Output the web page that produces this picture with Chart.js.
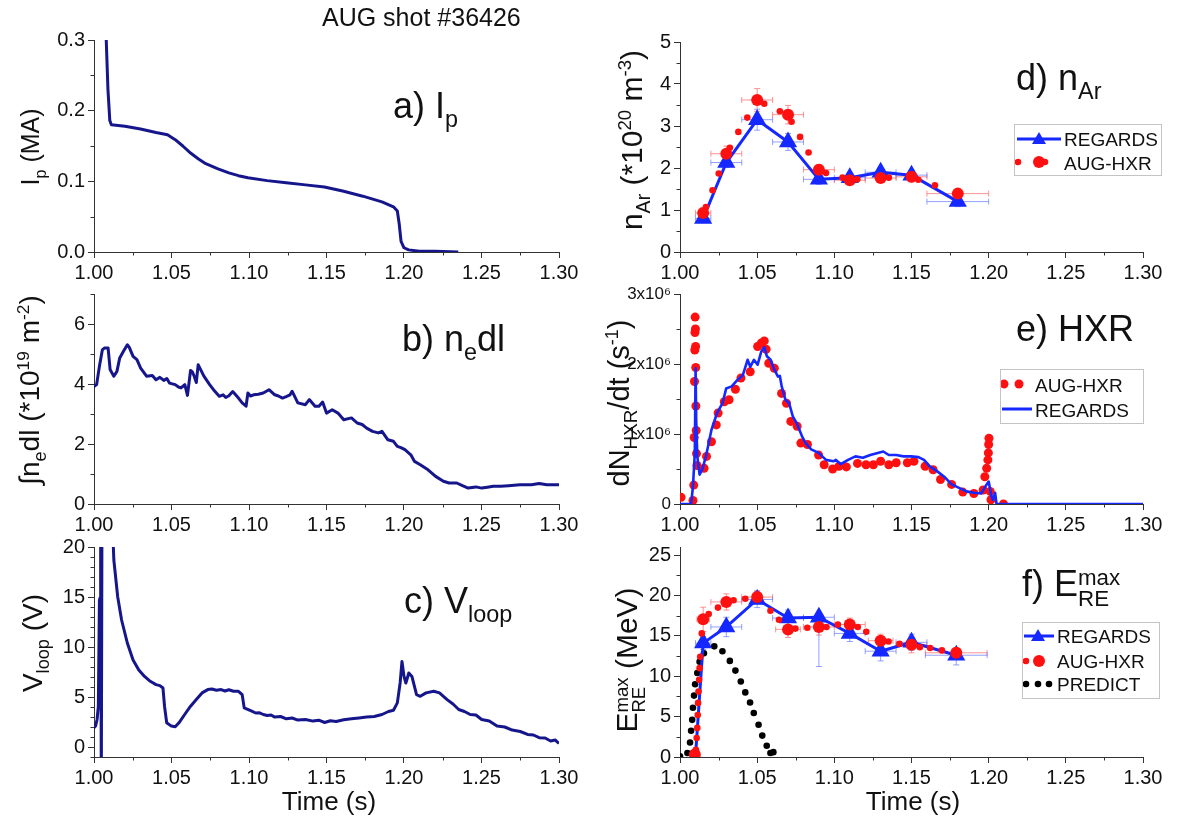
<!DOCTYPE html>
<html><head><meta charset="utf-8">
<script src="https://cdn.jsdelivr.net/npm/chart.js@4.4.1/dist/chart.umd.min.js"></script>
<style>
body{margin:0;background:#fff;}
#wrap{position:relative;width:1180px;height:834px;overflow:hidden;font-family:"Liberation Sans",Arial,sans-serif;color:#111;background:#fff;}
canvas{position:absolute;}
.t{position:absolute;white-space:nowrap;line-height:1;z-index:5;}
.rot{transform:translate(-50%,-50%) rotate(-90deg);}
.ctr{transform:translate(-50%,-50%);}
.sub{font-size:65%;position:relative;top:0.4em;}
.sup{font-size:62%;position:relative;top:-0.6em;}
.stk{display:inline-block;vertical-align:-0.45em;font-size:62%;line-height:0.95;}
.stk span{display:block;}
.legend{position:absolute;border:1.5px solid #c4c4c4;background:#fff;z-index:6;font-size:19px;}
.legend .row{position:absolute;left:0;white-space:nowrap;}
.legend svg{position:absolute;}
</style></head>
<body><div id="wrap">
<canvas id="ca" width="560" height="267" style="left:24px;top:25px;width:560px;height:267px"></canvas>
<canvas id="cb" width="560" height="265" style="left:24px;top:279px;width:560px;height:265px"></canvas>
<canvas id="cc" width="560" height="265" style="left:24px;top:532px;width:560px;height:265px"></canvas>
<canvas id="cd" width="568" height="265" style="left:600px;top:27px;width:568px;height:265px"></canvas>
<canvas id="ce" width="568" height="265" style="left:600px;top:279px;width:568px;height:265px"></canvas>
<canvas id="cf" width="568" height="265" style="left:600px;top:532px;width:568px;height:265px"></canvas>

<div class="t" style="left:322px;top:5px;font-size:25px">AUG shot #36426</div>

<div class="t rot" style="left:30px;top:147px;font-size:25px">I<span class="sub">p</span> (MA)</div>
<div class="t rot" style="left:30px;top:390px;font-size:28px">∫n<span class="sub">e</span>dl (*10<span class="sup">19</span> m<span class="sup">-2</span>)</div>
<div class="t rot" style="left:33px;top:643px;font-size:28px">V<span class="sub">loop</span> (V)</div>
<div class="t rot" style="left:632px;top:140px;font-size:30px">n<span class="sub">Ar</span> (*10<span class="sup">20</span> m<span class="sup">-3</span>)</div>
<div class="t rot" style="left:619px;top:403px;font-size:29px">dN<span class="sub">HXR</span>/dt (s<span class="sup">-1</span>)</div>
<div class="t rot" style="left:630px;top:660px;font-size:30px">E<span class="stk"><span>max</span><span>RE</span></span> (MeV)</div>

<div class="t ctr" style="left:329px;top:801px;font-size:26px">Time (s)</div>
<div class="t ctr" style="left:913px;top:801px;font-size:26px">Time (s)</div>

<div class="t" style="left:393px;top:88px;font-size:36px">a) I<span class="sub">p</span></div>
<div class="t" style="left:402px;top:321px;font-size:36px">b) n<span class="sub">e</span>dl</div>
<div class="t" style="left:404px;top:583px;font-size:36px">c) V<span class="sub">loop</span></div>
<div class="t" style="left:1016px;top:60px;font-size:36px">d) n<span class="sub">Ar</span></div>
<div class="t" style="left:1016px;top:311px;font-size:36px">e) HXR</div>
<div class="t" style="left:1022px;top:566px;font-size:36px">f) E<span class="stk"><span>max</span><span>RE</span></span></div>

<div class="legend" style="left:1014px;top:124px;width:146px;height:50px">
  <svg style="left:0;top:0" width="50" height="50">
    <line x1="2" y1="14" x2="46" y2="14" stroke="#1428ff" stroke-width="3"/>
    <polygon points="24,7 31,19 17,19" fill="#1428ff"/>
    <circle cx="3" cy="37" r="3.3" fill="#ff1010"/>
    <circle cx="24" cy="37" r="6" fill="#ff1010"/>
    <circle cx="30" cy="37" r="3.3" fill="#ff1010"/>
  </svg>
  <div class="row" style="left:49px;top:4px">REGARDS</div>
  <div class="row" style="left:49px;top:28px">AUG-HXR</div>
</div>
<div class="legend" style="left:1000px;top:369px;width:142px;height:53px">
  <svg style="left:0;top:0" width="40" height="53">
    <circle cx="3" cy="14" r="4.5" fill="#ff1010"/>
    <circle cx="18" cy="14" r="4.5" fill="#ff1010"/>
    <line x1="1" y1="39" x2="31" y2="39" stroke="#1428ff" stroke-width="3"/>
  </svg>
  <div class="row" style="left:34px;top:5px">AUG-HXR</div>
  <div class="row" style="left:34px;top:30px">REGARDS</div>
</div>
<div class="legend" style="left:1022px;top:622px;width:136px;height:75px">
  <svg style="left:0;top:0" width="40" height="75">
    <line x1="1" y1="13" x2="31" y2="13" stroke="#1428ff" stroke-width="3"/>
    <polygon points="15,6 22,18 8,18" fill="#1428ff"/>
    <circle cx="3" cy="38" r="3.3" fill="#ff1010"/>
    <circle cx="16" cy="38" r="6" fill="#ff1010"/>
    <circle cx="3" cy="61" r="3.3" fill="#000"/>
    <circle cx="15" cy="61" r="3.3" fill="#000"/>
    <circle cx="26" cy="61" r="3.3" fill="#000"/>
  </svg>
  <div class="row" style="left:34px;top:3px">REGARDS</div>
  <div class="row" style="left:34px;top:28px">AUG-HXR</div>
  <div class="row" style="left:34px;top:51px">PREDICT</div>
</div>
</div>
<script>
// ---------- ticks ----------
const xTicks=[1.00,1.05,1.10,1.15,1.20,1.25,1.30];
const xMinor=[1.025,1.075,1.125,1.175,1.225,1.275];
const aYTicks=[0,0.1,0.2,0.3], aYMinor=[0.05,0.15,0.25];
const bYTicks=[0,2,4,6], bYMinor=[1,3,5,7];
const cYTicks=[0,5,10,15,20], cYMinor=[-1,1,2,3,4,6,7,8,9,11,12,13,14,16,17,18,19];
const dYTicks=[0,1,2,3,4,5], dYMinor=[0.5,1.5,2.5,3.5,4.5];
const eYTicks=[0,1e6,2e6,3e6], eYMinor=[0.5e6,1.5e6,2.5e6];
const eYLabels=['0','1x10⁶','2x10⁶','3x10⁶'];
const fYTicks=[0,5,10,15,20,25], fYMinor=[2.5,7.5,12.5,17.5,22.5];

// ---------- a) Ip ----------
const aT=[1.0079,1.0090,1.0102,1.0112,1.020,1.030,1.040,1.0474,1.0524,1.0573,1.0623,1.0672,1.0721,1.0796,1.0870,1.0932,1.0993,1.1117,1.124,1.1364,1.1487,1.1611,1.1734,1.1858,1.1932,1.1957,1.1969,1.1981,1.2000,1.2030,1.210,1.220,1.235];
const aI=[0.300,0.230,0.186,0.180,0.178,0.174,0.169,0.166,0.159,0.150,0.140,0.132,0.125,0.118,0.112,0.108,0.105,0.101,0.098,0.095,0.092,0.086,0.079,0.071,0.064,0.058,0.040,0.015,0.006,0.003,0.001,0.001,0.000];

// ---------- b) ne dl ----------
const bT=[1.000,1.0017,1.0035,1.0054,1.0067,1.0091,1.0104,1.0116,1.0128,1.0148,1.0166,1.0190,1.0215,1.0227,1.0252,1.0277,1.0301,1.0339,1.0376,1.0400,1.0425,1.0450,1.0470,1.0487,1.0524,1.0545,1.0561,1.0586,1.0603,1.0623,1.0635,1.0647,1.0660,1.0672,1.0684,1.0709,1.0746,1.0771,1.0808,1.0833,1.0850,1.0870,1.0895,1.0932,1.0956,1.0981,1.0993,1.1010,1.1030,1.1060,1.1092,1.1129,1.1166,1.1190,1.1216,1.1240,1.1265,1.1278,1.1315,1.1364,1.1389,1.1426,1.1451,1.1475,1.1500,1.1537,1.1574,1.1611,1.1661,1.1698,1.1730,1.1759,1.1797,1.1834,1.1858,1.1896,1.1932,1.1957,1.1980,1.2006,1.2044,1.2068,1.2105,1.2155,1.2204,1.2254,1.2291,1.2340,1.2377,1.2414,1.2464,1.2501,1.2538,1.2575,1.2624,1.2674,1.2748,1.2822,1.2872,1.2921,1.3000];
const bV=[3.92,3.98,4.59,5.14,5.20,5.20,4.48,4.37,4.26,4.42,4.87,5.09,5.31,5.23,4.92,4.81,4.53,4.26,4.28,4.14,4.22,4.12,4.18,4.03,3.98,3.90,3.87,3.98,3.62,4.45,4.40,4.25,4.05,4.64,4.52,4.26,3.98,3.81,3.59,3.64,3.55,3.61,3.75,3.53,3.37,3.26,3.70,3.60,3.64,3.66,3.70,3.81,3.64,3.60,3.53,3.58,3.64,3.76,3.37,3.31,3.48,3.26,3.26,3.40,3.03,3.14,3.03,2.81,2.87,2.70,2.65,2.53,2.42,2.37,2.42,2.14,2.09,1.92,1.88,1.81,1.64,1.42,1.31,1.14,0.92,0.76,0.70,0.70,0.61,0.53,0.57,0.53,0.56,0.59,0.59,0.61,0.64,0.64,0.68,0.64,0.64];

// ---------- c) Vloop ----------
const cT=[1.000,1.0010,1.0020,1.0028,1.0035,1.0038,1.0040,1.0043,1.0047,1.0051,1.0054,1.0120,1.0128,1.0153,1.0178,1.0215,1.0252,1.0289,1.0326,1.0363,1.0400,1.0425,1.0445,1.0455,1.0469,1.0499,1.0524,1.0548,1.0585,1.0623,1.0660,1.0697,1.0734,1.0760,1.0790,1.0820,1.0845,1.0870,1.0900,1.0932,1.0956,1.0969,1.1018,1.1043,1.1068,1.1092,1.1117,1.1142,1.1166,1.1204,1.1241,1.1278,1.1315,1.1364,1.1413,1.1450,1.1488,1.1525,1.1562,1.1611,1.1661,1.1710,1.1759,1.1808,1.1858,1.1900,1.1932,1.1957,1.1975,1.1987,1.2000,1.2012,1.2031,1.2051,1.2081,1.2105,1.2142,1.2192,1.2229,1.2278,1.2316,1.2353,1.2390,1.2427,1.2464,1.2501,1.2550,1.2600,1.2650,1.2698,1.2750,1.2797,1.2835,1.2872,1.2910,1.2946,1.2975,1.3000];
const cV=[1.92,2.09,2.75,4.08,14.7,14.9,9.0,30,-5,-5,40,22,18.7,15.0,12.7,10.4,8.7,7.7,7.06,6.57,6.24,6.14,5.9,4.08,2.42,2.09,2.02,2.42,3.25,4.08,4.74,5.41,5.74,5.80,5.67,5.74,5.60,5.72,5.57,5.57,5.24,3.91,3.58,3.40,3.42,3.25,3.15,3.20,2.99,3.05,2.82,2.90,2.69,2.75,2.59,2.68,2.45,2.62,2.55,2.72,2.82,2.90,2.99,3.05,3.25,3.55,3.68,4.41,6.4,8.56,7.06,6.4,7.4,7.06,5.24,5.07,5.41,5.57,5.41,4.74,4.30,3.75,3.55,3.25,3.20,2.75,2.60,2.09,2.00,1.69,1.55,1.26,1.20,0.93,0.90,0.60,0.70,0.36];

// ---------- d) nAr ----------
const dRegT=[1.015,1.030,1.050,1.070,1.090,1.110,1.130,1.150,1.180];
const dRegV=[0.80,2.13,3.15,2.62,1.73,1.77,1.90,1.83,1.20];
const dRegXErr=[0.005,0.01,0.01,0.01,0.01,0.01,0.01,0.01,0.02];
const dRegYErr=[0.10,0.12,0.25,0.20,0.12,0.10,0.10,0.10,0.12];
const dAugT=[1.015,1.030,1.050,1.070,1.090,1.110,1.130,1.150,1.180];
const dAugV=[0.93,2.34,3.62,3.27,1.96,1.71,1.76,1.79,1.39];
const dAugXErr=[0.005,0.01,0.01,0.01,0.01,0.01,0.01,0.01,0.02];
const dAugYErr=[0.12,0.18,0.27,0.22,0.12,0.10,0.10,0.12,0.10];
const dAugSmT=[1.0168,1.0211,1.0251,1.0323,1.0378,1.0436,1.0546,1.0647,1.0723,1.0778,1.0833,1.0946,1.1053,1.1149,1.1353,1.1544,1.1652];
const dAugSmV=[1.07,1.47,1.87,2.48,2.86,3.20,3.53,3.35,3.10,2.74,2.37,1.88,1.77,1.73,1.77,1.72,1.59];

// ---------- e) HXR ----------
const eAugT=[1.0007,1.0084,1.0089,1.0092,1.0094,1.0096,1.0097,1.0098,1.0100,1.0101,1.0102,1.0103,1.0105,1.0107,1.0110,1.0156,1.0172,1.0204,1.0235,1.0247,1.0287,1.0318,1.0359,1.0395,1.0455,1.0503,1.0527,1.0546,1.0558,1.0575,1.0611,1.0658,1.0690,1.0718,1.0759,1.0783,1.0826,1.0898,1.0934,1.0989,1.1030,1.1078,1.1150,1.1205,1.1253,1.1300,1.1353,1.1401,1.1473,1.1516,1.1588,1.1640,1.1688,1.1760,1.1832,1.1904,1.1964,1.1975,1.1987,1.1995,1.1998,1.2000,1.2002,1.2010,1.2015,1.2096];
const eAugV=[0.095,0.05,0.27,0.95,1.75,2.20,2.45,2.67,2.50,2.25,1.95,1.40,1.05,0.72,0.55,0.51,0.68,0.89,1.13,1.30,1.46,1.49,1.64,1.80,1.89,2.25,2.30,2.33,2.21,2.01,1.94,1.58,1.44,1.18,1.11,0.87,0.85,0.70,0.56,0.50,0.54,0.53,0.58,0.56,0.56,0.61,0.56,0.59,0.59,0.61,0.54,0.49,0.35,0.28,0.17,0.15,0.20,0.39,0.51,0.63,0.73,0.85,0.94,0.18,0.06,0.00].map(v=>v*1e6);
const eRegT=[1.000,1.0072,1.0084,1.0096,1.0101,1.0105,1.0112,1.0127,1.0144,1.0168,1.0204,1.0240,1.0276,1.0299,1.0335,1.0371,1.0407,1.0438,1.0455,1.0479,1.0503,1.0527,1.0546,1.0563,1.0587,1.0611,1.0635,1.0647,1.0659,1.0683,1.0707,1.0731,1.0755,1.0790,1.0814,1.0850,1.0898,1.0946,1.0994,1.1010,1.1041,1.1089,1.1137,1.1185,1.1233,1.1281,1.1317,1.1353,1.1401,1.1449,1.1497,1.1545,1.1581,1.1617,1.1665,1.1712,1.1760,1.1808,1.1856,1.1904,1.1952,1.1987,1.2000,1.2018,1.2027,1.2042,1.2051,1.3000];
const eRegV=[0,0,0.25,0.73,1.94,1.20,0.68,0.42,0.49,0.68,1.06,1.30,1.44,1.65,1.68,1.77,1.84,2.06,1.96,2.06,1.99,2.18,2.24,2.11,2.06,1.92,1.82,1.83,1.68,1.49,1.44,1.25,1.16,0.97,0.87,0.78,0.73,0.63,0.61,0.63,0.57,0.63,0.68,0.66,0.70,0.73,0.75,0.70,0.70,0.68,0.68,0.67,0.63,0.54,0.47,0.39,0.28,0.23,0.18,0.16,0.15,0.28,0.32,0.11,0.06,0.16,0,0].map(v=>v*1e6);

// ---------- f) E_RE max ----------
const fRegT=[1.010,1.015,1.030,1.050,1.070,1.090,1.110,1.130,1.150,1.179];
const fRegV=[0,14.1,16.1,19.5,17.2,17.3,15.3,13.1,14.2,12.6];
const fRegXErr=[0,0.005,0.01,0.01,0.01,0.01,0.01,0.01,0.01,0.02];
const fRegYLo=[0,0.8,1.2,1.0,1.0,6.1,1.0,1.2,1.0,1.2];
const fRegYHi=[0,0.8,1.2,1.0,1.0,0.2,1.0,1.2,1.0,0.8];
const fAugT=[1.0096,1.015,1.030,1.050,1.070,1.090,1.110,1.130,1.150,1.179];
const fAugV=[0.3,17.05,19.2,19.8,15.8,16.1,16.4,14.4,13.9,12.9];
const fAugXErr=[0,0.004,0.01,0.01,0.008,0.01,0.01,0.008,0.01,0.02];
const fAugYErr=[0,1.5,1.0,0.8,1.0,1.0,0.8,0.8,1.0,0.6];
const fAugSmT=[1.0103,1.0108,1.0112,1.0115,1.0117,1.0120,1.0124,1.0127,1.0131,1.0141,1.0186,1.0246,1.0347,1.0423,1.0586,1.0641,1.0748,1.0825,1.0949,1.1023,1.1152,1.1207,1.1351,1.1422,1.1554,1.1621,1.1697];
const fAugSmV=[0.9,2.35,3.6,5.2,6.7,8.1,9.55,11.0,12.4,15.3,17.7,18.5,19.4,19.6,18.1,17.0,15.9,16.0,16.1,16.4,16.1,15.5,14.3,14.0,13.6,13.5,13.2];
const fPredT=[1.000,1.0048,1.0065,1.0072,1.0079,1.0084,1.0091,1.0098,1.0112,1.0127,1.0155,1.0222,1.0275,1.0323,1.0359,1.0394,1.0423,1.0454,1.0478,1.0509,1.0533,1.0562,1.0586,1.0605];
const fPredV=[0.1,0.5,1.8,3.25,4.6,6.1,7.6,9.0,10.4,11.8,12.85,13.7,13.1,11.9,10.7,9.35,8.0,6.75,5.45,4.0,2.65,1.4,0.5,0.6];

// ---------- helpers ----------
const FF='"Liberation Sans", Arial, sans-serif';
const NAVY='#16168c', BLUE='#1428ff', RED='#ff1010';
const pts=(t,v)=>t.map((x,i)=>({x:x,y:v[i]}));
const minorPlugin={id:'minorTicks',afterDraw(chart,args,opts){
  const ctx=chart.ctx, xs=chart.scales.x, ys=chart.scales.y, ca=chart.chartArea;
  ctx.save(); ctx.strokeStyle='#333'; ctx.lineWidth=1;
  (opts.x||[]).forEach(v=>{const p=Math.round(xs.getPixelForValue(v))+0.5;ctx.beginPath();ctx.moveTo(p,ca.bottom);ctx.lineTo(p,ca.bottom+3.5);ctx.stroke();});
  (opts.y||[]).forEach(v=>{const p=Math.round(ys.getPixelForValue(v))+0.5;ctx.beginPath();ctx.moveTo(ca.left,p);ctx.lineTo(ca.left-3.5,p);ctx.stroke();});
  ctx.restore();
}};
const errPlugin={id:'errBars',beforeDatasetsDraw(chart){
  const ctx=chart.ctx, xs=chart.scales.x, ys=chart.scales.y;
  ctx.save(); ctx.lineWidth=1;
  const seg=(a,b,c,d)=>{ctx.beginPath();ctx.moveTo(a,b);ctx.lineTo(c,d);ctx.stroke();};
  chart.data.datasets.forEach(ds=>{
    if(!ds.errX&&!ds.errYLo) return;
    ctx.strokeStyle=ds.errColor;
    ds.data.forEach((p,i)=>{
      const px=xs.getPixelForValue(p.x), py=ys.getPixelForValue(p.y);
      const ex=ds.errX?ds.errX[i]:0;
      if(ex>0){const x1=xs.getPixelForValue(p.x-ex),x2=xs.getPixelForValue(p.x+ex);
        seg(x1,py,x2,py);seg(x1,py-3,x1,py+3);seg(x2,py-3,x2,py+3);}
      const lo=ds.errYLo?ds.errYLo[i]:0, hi=ds.errYHi?ds.errYHi[i]:lo;
      if(lo>0||hi>0){const y1=ys.getPixelForValue(p.y-lo),y2=ys.getPixelForValue(p.y+hi);
        seg(px,y1,px,y2);seg(px-3,y1,px+3,y1);seg(px-3,y2,px+3,y2);}
    });
  });
  ctx.restore();
}};

function makeChart(id,padL,yMin,yMax,yTicks,yMinor,yLabel,yFont,datasets){
  return new Chart(document.getElementById(id),{
    type:'scatter',
    data:{datasets:datasets},
    plugins:[minorPlugin,errPlugin],
    options:{
      responsive:false,animation:false,devicePixelRatio:1,
      layout:{padding:{top:15,right:25,left:0,bottom:0}},
      plugins:{legend:{display:false},tooltip:{enabled:false},minorTicks:{x:xMinor,y:yMinor}},
      scales:{
        x:{type:'linear',min:1.0,max:1.3,
          afterBuildTicks:s=>{s.ticks=xTicks.map(v=>({value:v}));},
          afterFit:s=>{s.height=40;},
          ticks:{callback:v=>Number(v).toFixed(2),font:{family:FF,size:20},color:'#111',padding:3,autoSkip:false,maxRotation:0},
          grid:{drawOnChartArea:false,drawTicks:true,tickLength:6,color:'#333',tickColor:'#333'},
          border:{display:true,color:'#333',width:1}},
        y:{type:'linear',min:yMin,max:yMax,
          afterBuildTicks:s=>{s.ticks=yTicks.map(v=>({value:v}));},
          afterFit:s=>{s.width=padL;},
          ticks:{callback:yLabel,font:{family:FF,size:yFont},color:'#111',padding:3,autoSkip:false},
          grid:{drawOnChartArea:false,drawTicks:true,tickLength:6,color:'#333',tickColor:'#333'},
          border:{display:true,color:'#333',width:1}}
      }
    }
  });
}
const lineDs=(d,c,w)=>({data:d,showLine:true,borderColor:c,borderWidth:w,pointRadius:0,borderJoinStyle:'round',tension:0});
const dotDs=(d,c,r)=>({data:d,showLine:false,backgroundColor:c,borderColor:c,borderWidth:0,pointRadius:r,pointHoverRadius:r});

makeChart('ca',70,0,0.3,aYTicks,aYMinor,v=>Number(v).toFixed(1),20,[lineDs(pts(aT,aI),NAVY,3)]);
makeChart('cb',70,0,7,bYTicks,bYMinor,v=>String(v),20,[lineDs(pts(bT,bV),NAVY,3)]);
makeChart('cc',70,-1,20,cYTicks,cYMinor,v=>String(v),20,[lineDs(pts(cT,cV),NAVY,3)]);

makeChart('cd',80,0,5,dYTicks,dYMinor,v=>String(v),20,[
  Object.assign(dotDs(pts(dAugT,dAugV),RED,6),{errX:dAugXErr,errYLo:dAugYErr,errColor:'rgba(255,110,110,0.75)'}),
  dotDs(pts(dAugSmT,dAugSmV),RED,3.3),
  Object.assign(lineDs(pts(dRegT,dRegV),BLUE,3),{pointRadius:7.5,pointStyle:'triangle',pointBackgroundColor:BLUE,pointBorderColor:BLUE,errX:dRegXErr,errYLo:dRegYErr,errColor:'rgba(110,130,255,0.75)'})
]);
makeChart('ce',80,0,3e6,eYTicks,eYMinor,(v,i)=>eYLabels[i],17,[
  lineDs(pts(eRegT,eRegV),BLUE,2.6),
  dotDs(pts(eAugT,eAugV),RED,4.5)
]);
makeChart('cf',80,0,26,fYTicks,fYMinor,v=>String(v),20,[
  Object.assign(dotDs(pts(fAugT,fAugV),RED,6),{errX:fAugXErr,errYLo:fAugYErr,errColor:'rgba(255,110,110,0.75)'}),
  dotDs(pts(fAugSmT,fAugSmV),RED,3.3),
  Object.assign(lineDs(pts(fRegT,fRegV),BLUE,3),{pointRadius:fRegV.map((v,i)=>i===0?0:7.5),pointStyle:'triangle',pointBackgroundColor:BLUE,pointBorderColor:BLUE,errX:fRegXErr,errYLo:fRegYLo,errYHi:fRegYHi,errColor:'rgba(110,130,255,0.75)'}),
  dotDs(pts(fPredT,fPredV),'#000',3.3)
]);
</script>
</body></html>
